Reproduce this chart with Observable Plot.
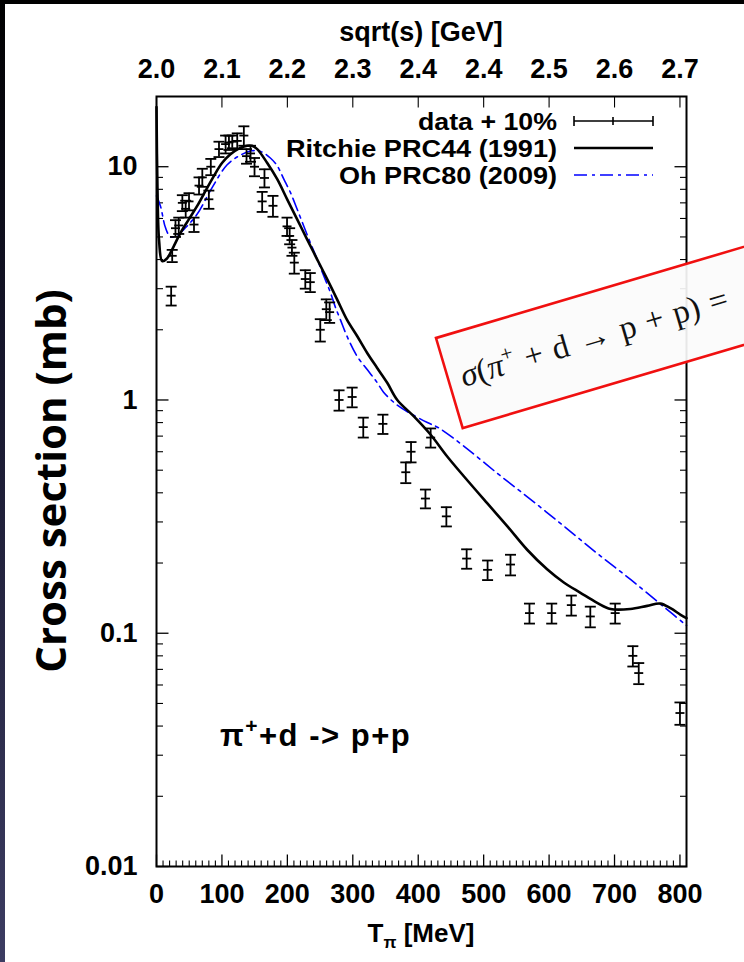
<!DOCTYPE html>
<html><head><meta charset="utf-8">
<script src="https://cdn.jsdelivr.net/npm/d3@7"></script>
<script src="https://cdn.jsdelivr.net/npm/@observablehq/plot@0.6"></script>
<style>
html,body{margin:0;padding:0;background:#fff;}
#wrap{position:relative;width:744px;height:962px;overflow:hidden;background:#fff;}
#topband{position:absolute;left:0;top:0;width:744px;height:4px;background:#000;}
#leftband{position:absolute;left:0;top:0;width:5px;height:962px;background:linear-gradient(#000 0%, #15152a 35%, #3c3c62 100%);}
svg{display:block}
</style></head><body><div id="wrap"></div>
<script>
// ---- measured data (pi+ d -> p p), T_pi in MeV, sigma in mb ----
const dataT = [22.4, 24, 29, 34, 39.5, 44.6, 49.7, 57.3, 65, 70, 80, 83, 95.5, 105.6, 110.7, 115.8, 123.4, 133.5, 137.6, 143.7, 149.8, 161.5, 165, 178, 199.5, 203.5, 207, 210.6, 227.4, 235, 250.3, 259.5, 264.6, 279, 299, 316, 346, 381, 389, 411, 419, 443, 474, 506, 541, 570, 604, 634, 663, 701, 728, 737, 800];
const dataSigma = [2.8, 4.15, 5.45, 5.6, 7.0, 6.6, 7.1, 5.65, 8.3, 9.0, 7.25, 10.0, 11.9, 12.5, 12.7, 12.8, 12.9, 13.6, 11.1, 11.4, 10.0, 7.1, 8.95, 6.8, 5.55, 5.05, 4.5, 3.88, 3.3, 3.2, 2.0, 2.45, 2.38, 1.0, 1.03, 0.765, 0.79, 0.49, 0.6, 0.378, 0.69, 0.317, 0.209, 0.187, 0.197, 0.122, 0.122, 0.132, 0.118, 0.122, 0.080, 0.0675, 0.0455];
const dataErr = [0.26, 0.25, 0.45, 0.45, 0.55, 0.55, 0.6, 0.4, 0.7, 0.8, 0.65, 0.8, 0.9, 1.1, 0.9, 0.8, 1.0, 1.3, 0.8, 0.9, 0.9, 0.7, 0.8, 0.7, 0.5, 0.4, 0.35, 0.4, 0.3, 0.3, 0.22, 0.25, 0.24, 0.1, 0.1, 0.075, 0.075, 0.05, 0.06, 0.035, 0.065, 0.03, 0.02, 0.018, 0.02, 0.012, 0.012, 0.013, 0.012, 0.012, 0.008, 0.007, 0.005];

// ---- Ritchie PRC44 (1991) ----
const ritchieT = [0, 1.5, 4, 8.7, 16, 26.5, 36.7, 49.4, 62.2, 74.9, 87.6, 100.4, 113, 125.8, 138.6, 146, 153.9, 169, 184.5, 199.7, 215, 230, 245.5, 261, 276, 291, 306.6, 322, 337, 352.6, 368, 393, 418.7, 444, 469.7, 505, 536, 566.5, 597, 622.5, 648, 673.5, 694, 724, 750, 770, 785.5, 801, 810];
const ritchieSigma = [18, 8, 4.8, 3.94, 4.04, 4.57, 5.21, 5.95, 6.79, 7.88, 9.12, 10.4, 11.3, 11.95, 12.3, 12.3, 11.9, 10.4, 8.84, 7.25, 5.95, 4.89, 4.01, 3.29, 2.70, 2.21, 1.88, 1.59, 1.375, 1.185, 1.0, 0.852, 0.711, 0.574, 0.471, 0.362, 0.288, 0.228, 0.188, 0.165, 0.149, 0.135, 0.127, 0.127, 0.131, 0.134, 0.128, 0.120, 0.116];

// ---- Oh PRC80 (2009) ----
const ohT = [0, 6, 13.8, 21.4, 30, 45, 62, 85, 108, 128, 145, 160, 174, 184.4, 194.6, 204.8, 215, 225, 235, 245.6, 255.7, 266, 273.6, 281, 291, 306.6, 322, 337, 347, 368, 393, 414, 431, 470, 520, 571.6, 622.5, 673.5, 724.4, 775, 810];
const ohSigma = [7.5, 6.79, 5.47, 5.0, 5.05, 5.5, 6.25, 8.14, 10.2, 11.2, 11.7, 11.6, 10.9, 10.1, 8.84, 7.74, 6.57, 5.57, 4.73, 4.01, 3.40, 2.88, 2.49, 2.21, 1.88, 1.54, 1.35, 1.19, 1.08, 0.95, 0.86, 0.80, 0.76, 0.633, 0.487, 0.375, 0.288, 0.22, 0.170, 0.130, 0.108];

// ---- axes ----
const xTickValues = [0, 100, 200, 300, 400, 500, 600, 700, 800];
const xTickLabels = ["0", "100", "200", "300", "400", "500", "600", "700", "800"];
const sqrtsLabels = ["2.0", "2.1", "2.2", "2.3", "2.4", "2.4", "2.5", "2.6", "2.7"];
const yTickValues = [0.01, 0.1, 1, 10];
const yTickLabels = ["0.01", "0.1", "1", "10"];

const points = dataT.map((t, i) => ({T: t, s: dataSigma[i], e: dataErr[i]}));
const ritchie = ritchieT.map((t, i) => ({T: t, s: ritchieSigma[i]}));
const oh = ohT.map((t, i) => ({T: t, s: ohSigma[i]}));

const yMinor = [];
for (const d of yTickValues) for (let k = 2; k <= 9; k++) if (k * d < 20) yMinor.push(+(k * d).toPrecision(3));
const xMinor = d3.range(10, 801, 10).filter(v => v % 100 !== 0);

const len = size => Math.sqrt(size / Math.PI);
const hline = {draw(c, s) { const r = len(s); c.moveTo(-r, 0); c.lineTo(r, 0); }};
const tickUp = {draw(c, s) { c.moveTo(0, 0); c.lineTo(0, -len(s)); }};
const tickDown = {draw(c, s) { c.moveTo(0, 0); c.lineTo(0, len(s)); }};
const tickRight = {draw(c, s) { c.moveTo(0, 0); c.lineTo(len(s), 0); }};
const tickLeft = {draw(c, s) { c.moveTo(0, 0); c.lineTo(-len(s), 0); }};
const tk = (data, channel, anchor, symbol, r, w) =>
  Plot.dot(data, {[channel]: d => d, frameAnchor: anchor, symbol, r, fill: "none", stroke: "black", strokeWidth: w});

const FONT = "'Liberation Sans', Arial, Helvetica, sans-serif";

const plot = Plot.plot({
  width: 744, height: 962,
  marginLeft: 156, marginRight: 58, marginTop: 96, marginBottom: 96,
  x: {type: "linear", domain: [0, 810], axis: null},
  y: {type: "log", domain: [0.01, 20], axis: null},
  style: {fontFamily: FONT, background: "#fff", overflow: "visible"},
  marks: [
    // ticks (inward)
    tk(xTickValues, "x", "bottom", tickUp, 12, 1.3),
    tk(xMinor, "x", "bottom", tickUp, 6, 1.1),
    tk(xTickValues, "x", "top", tickDown, 11, 1.1),
    tk(yTickValues, "y", "left", tickRight, 12, 1.3),
    tk(yMinor, "y", "left", tickRight, 6.5, 1.1),
    tk(yTickValues, "y", "right", tickLeft, 12, 1.3),
    tk(yMinor, "y", "right", tickLeft, 6.5, 1.1),
    // tick labels
    Plot.text(xTickValues, {x: d => d, frameAnchor: "bottom", lineAnchor: "middle", dy: 28, text: (d, i) => xTickLabels[i], fontSize: 27, fontWeight: "bold", fill: "black"}),
    Plot.text(xTickValues, {x: d => d, frameAnchor: "top", lineAnchor: "middle", dy: -27, text: (d, i) => sqrtsLabels[i], fontSize: 27, fontWeight: "bold", fill: "black"}),
    Plot.text(yTickValues, {y: d => d, frameAnchor: "left", lineAnchor: "middle", dx: -19, textAnchor: "end", text: (d, i) => yTickLabels[i], fontSize: 27, fontWeight: "bold", fill: "black"}),
    // model curves
    Plot.line(oh, {x: "T", y: "s", stroke: "#0000ff", strokeWidth: 1.6, strokeDasharray: "13,5,3,5", curve: "catmull-rom"}),
    Plot.line(ritchie, {x: "T", y: "s", stroke: "black", strokeWidth: 2.6, curve: "catmull-rom"}),
    // data with error bars
    Plot.ruleX(points, {x: "T", y1: d => d.s - d.e, y2: d => d.s + d.e, stroke: "black", strokeWidth: 1.8}),
    Plot.dot(points, {x: "T", y: d => d.s + d.e, symbol: hline, r: 5.5, fill: "none", stroke: "black", strokeWidth: 1.8}),
    Plot.dot(points, {x: "T", y: d => d.s - d.e, symbol: hline, r: 5.5, fill: "none", stroke: "black", strokeWidth: 1.8}),
    Plot.dot(points, {x: "T", y: "s", symbol: hline, r: 4.5, fill: "none", stroke: "black", strokeWidth: 1.8}),
    Plot.frame({stroke: "black", strokeWidth: 2})
  ]
});

const svg = d3.select(plot);
const bold = (sel, size) => sel.attr("font-family", FONT).attr("font-weight", "bold").attr("font-size", size).attr("fill", "black");

// top axis title
bold(svg.append("text"), 27).attr("x", 421).attr("y", 41).attr("text-anchor", "middle").text("sqrt(s) [GeV]");
// bottom axis title
const xt = bold(svg.append("text"), 26).attr("x", 421).attr("y", 942).attr("text-anchor", "middle");
xt.append("tspan").text("T");
xt.append("tspan").attr("font-size", 17).attr("dy", 6).text("\u03c0");
xt.append("tspan").attr("dy", -6).text(" [MeV]");
// y axis title
svg.append("text").attr("transform", "translate(66,481) rotate(-90)").attr("text-anchor", "middle")
  .attr("font-family", "'Open Sans', 'Noto Sans', sans-serif").attr("font-weight", "bold").attr("font-size", 42)
  .attr("fill", "black").text("Cross section (mb)");

// legend (text is wide in the original: stretch horizontally)
const legend = [
  {label: "data + 10%", y: 121, w: 139},
  {label: "Ritchie PRC44 (1991)", y: 148, w: 271},
  {label: "Oh PRC80 (2009)", y: 175, w: 218}
];
legend.forEach(l => bold(svg.append("text"), 24).attr("x", 557 - l.w).attr("y", l.y + 8.5).attr("text-anchor", "start")
  .attr("textLength", l.w).attr("lengthAdjust", "spacingAndGlyphs").text(l.label));
const lg = svg.append("g").attr("stroke", "black").attr("fill", "none");
lg.append("path").attr("d", "M574,121H653M574,116V126M653,116V126M613,117V125").attr("stroke-width", 1.6);
lg.append("path").attr("d", "M574,148H653").attr("stroke-width", 2.6);
lg.append("path").attr("d", "M574,175H653").attr("stroke", "#0000ff").attr("stroke-width", 1.6).attr("stroke-dasharray", "13,5,3,5");

// reaction annotation
const rx = bold(svg.append("text"), 31).attr("x", 220).attr("y", 746).attr("text-anchor", "start").attr("letter-spacing", 1.5);
rx.append("tspan").text("\u03c0");
rx.append("tspan").attr("font-size", 21).attr("dy", -13).text("+");
rx.append("tspan").attr("dy", 13).text("+d -> p+p");

// formula box
const box = svg.append("g").attr("transform", "translate(436,338) rotate(-16.5)");
box.append("rect").attr("x", 0).attr("y", 0).attr("width", 560).attr("height", 94)
  .attr("fill", "#fbfbfb").attr("fill-opacity", 0.92).attr("stroke", "#f01010").attr("stroke-width", 2.6);
const ft = box.append("text").attr("x", 13).attr("y", 55).attr("text-anchor", "start")
  .attr("font-family", "'Liberation Serif', 'DejaVu Serif', serif")
  .attr("font-size", 33).attr("word-spacing", 2).attr("fill", "#111");
ft.append("tspan").attr("font-style", "italic").text("\u03c3");
ft.append("tspan").text("(");
ft.append("tspan").attr("font-style", "italic").text("\u03c0");
ft.append("tspan").attr("font-size", 22).attr("dy", -13).text("+");
ft.append("tspan").attr("dy", 13).text(" + d \u2192 p + p) =");

const wrap = document.getElementById("wrap");
wrap.appendChild(plot);
const tb = document.createElement("div"); tb.id = "topband"; wrap.appendChild(tb);
const lb = document.createElement("div"); lb.id = "leftband"; wrap.appendChild(lb);
</script>
</body></html>
